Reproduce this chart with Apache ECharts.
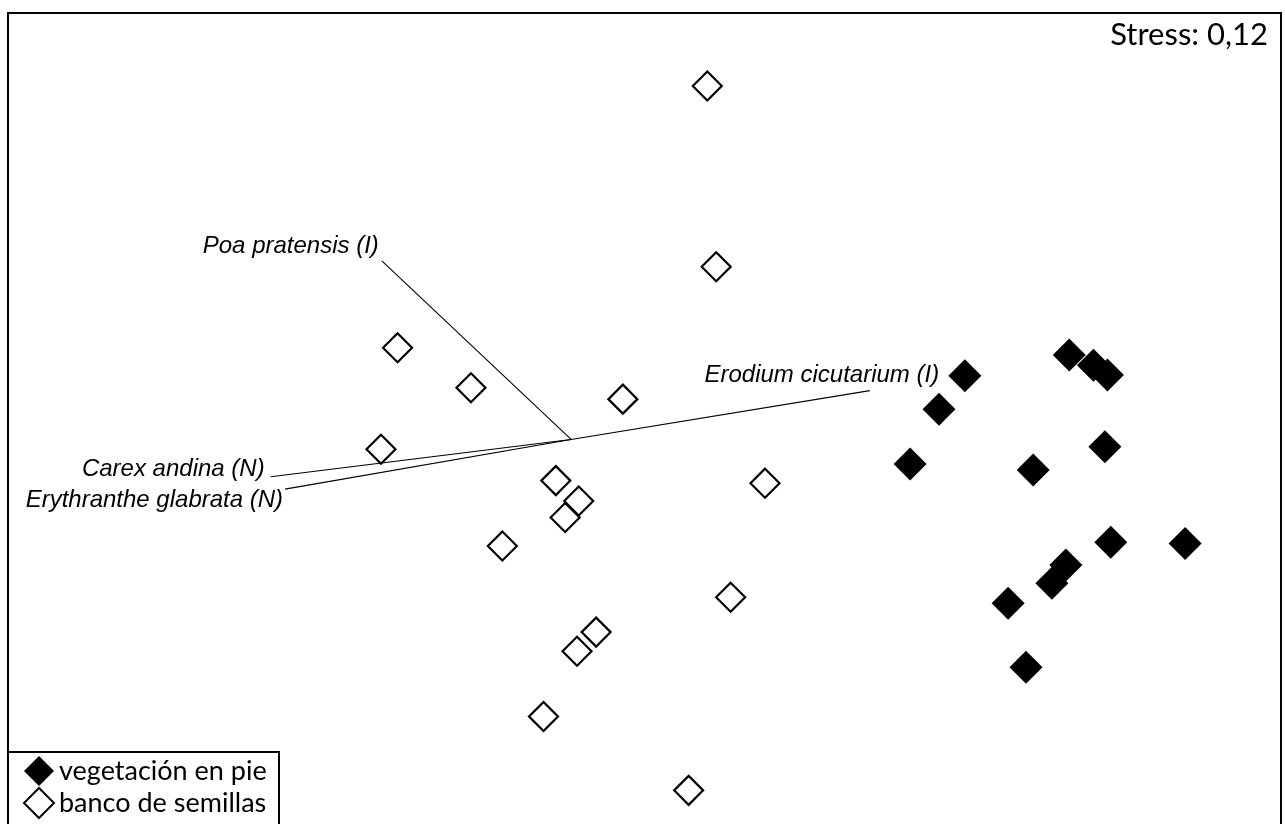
<!DOCTYPE html>
<html>
<head>
<meta charset="utf-8">
<title>NMDS</title>
<script src="https://cdn.jsdelivr.net/npm/echarts@6/dist/echarts.min.js"></script>
<style>
  html, body { margin: 0; padding: 0; background: #fff; width: 1285px; height: 824px; overflow: hidden; }
  /* the frame runs past the bottom edge of the page, so the canvas is taller than the window */
  #chart { width: 1285px; height: 880px; }
</style>
</head>
<body>
<div id="chart"></div>
<script>
// NMDS site scores (axis 1, axis 2)
const vegetacionEnPie = [
  [0.755, 0.145], [0.694, 0.066], [0.626, -0.063], [1.001, 0.194],
  [1.058, 0.170], [1.091, 0.147], [1.085, -0.022], [0.916, -0.077],
  [1.099, -0.247], [1.274, -0.250], [0.993, -0.301], [0.960, -0.344],
  [0.857, -0.391], [0.899, -0.542]
];
const bancoDeSemillas = [
  [0.148, 0.828], [0.169, 0.402], [-0.582, 0.211], [-0.409, 0.117],
  [-0.051, 0.090], [-0.621, -0.028], [-0.209, -0.102], [-0.155, -0.150],
  [-0.187, -0.189], [-0.335, -0.256], [0.284, -0.108], [0.203, -0.377],
  [-0.114, -0.459], [-0.159, -0.504], [-0.238, -0.658], [0.104, -0.832]
];
const seriesNames = ['vegetación en pie', 'banco de semillas'];

// Fitted species vectors
const vectorOrigin = [-0.173, -0.005];
const especies = ['Poa pratensis (I)', 'Erodium cicutarium (I)', 'Carex andina (N)', 'Erythranthe glabrata (N)'];
const vectorEnds = [[-0.619, 0.416], [0.531, 0.110], [-0.881, -0.093], [-0.847, -0.122]];

const stressText = 'Stress: 0,12';

// label placement for each vector tip
const labelPlacement = [
  { align: 'right', offset: [-3, -14] },
  { align: 'center', offset: [-48, -15] },
  { align: 'right', offset: [-6, -7] },
  { align: 'right', offset: [-2, 11] }
];

const chart = echarts.init(document.getElementById('chart'), null, { renderer: 'canvas' });

const vectorSeries = vectorEnds.map((end, i) => ({
  type: 'line',
  name: especies[i],
  data: [vectorOrigin, end],
  symbol: 'none',
  silent: true,
  z: 2,
  lineStyle: { color: '#000', width: 1.1 }
}));

const option = {
  animation: false,
  backgroundColor: '#fff',
  grid: {
    left: 8, top: 13, width: 1273, height: 848.66,
    show: true, borderColor: '#000', borderWidth: 2, backgroundColor: 'transparent'
  },
  xAxis: { type: 'value', min: -1.5, max: 1.5, show: false },
  yAxis: { type: 'value', min: -1, max: 1, show: false },
  legend: {
    data: seriesNames,
    orient: 'vertical',
    left: 23, top: 756,
    itemWidth: 30, itemHeight: 30, itemGap: 1,
    padding: 0,
    z: 20,
    selectedMode: false,
    textStyle: { fontFamily: 'Lato', fontSize: 27, color: '#000', padding: [0, 0, 0, 0] }
  },
  graphic: [
    {
      type: 'rect', z: 15,
      shape: { x: 8, y: 752, width: 271, height: 120 },
      style: { fill: '#fff', stroke: '#000', lineWidth: 2 }
    },
    {
      type: 'text', z: 15,
      right: 17, top: 19,
      style: { text: stressText, font: '31px Lato', fill: '#000' }
    }
  ],
  series: [
    ...vectorSeries,
    {
      type: 'scatter',
      name: 'etiquetas',
      silent: true,
      z: 3,
      symbolSize: 1,
      itemStyle: { color: 'rgba(0,0,0,0)', opacity: 1 },
      data: vectorEnds.map((end, i) => ({
        value: end,
        label: {
          show: true,
          position: 'inside',
          formatter: especies[i],
          align: labelPlacement[i].align,
          verticalAlign: 'middle',
          offset: labelPlacement[i].offset,
          fontFamily: 'Liberation Sans',
          fontStyle: 'italic',
          fontSize: 24,
          color: '#000'
        }
      }))
    },
    {
      type: 'scatter',
      name: seriesNames[0],
      symbol: 'diamond',
      symbolSize: 33,
      z: 5,
      itemStyle: { color: '#000', opacity: 1 },
      data: vegetacionEnPie
    },
    {
      type: 'scatter',
      name: seriesNames[1],
      symbol: 'diamond',
      symbolSize: 29,
      z: 5,
      itemStyle: { color: '#fff', borderColor: '#000', borderWidth: 2.2, opacity: 1 },
      data: bancoDeSemillas
    }
  ]
};

chart.setOption(option);
</script>
</body>
</html>
